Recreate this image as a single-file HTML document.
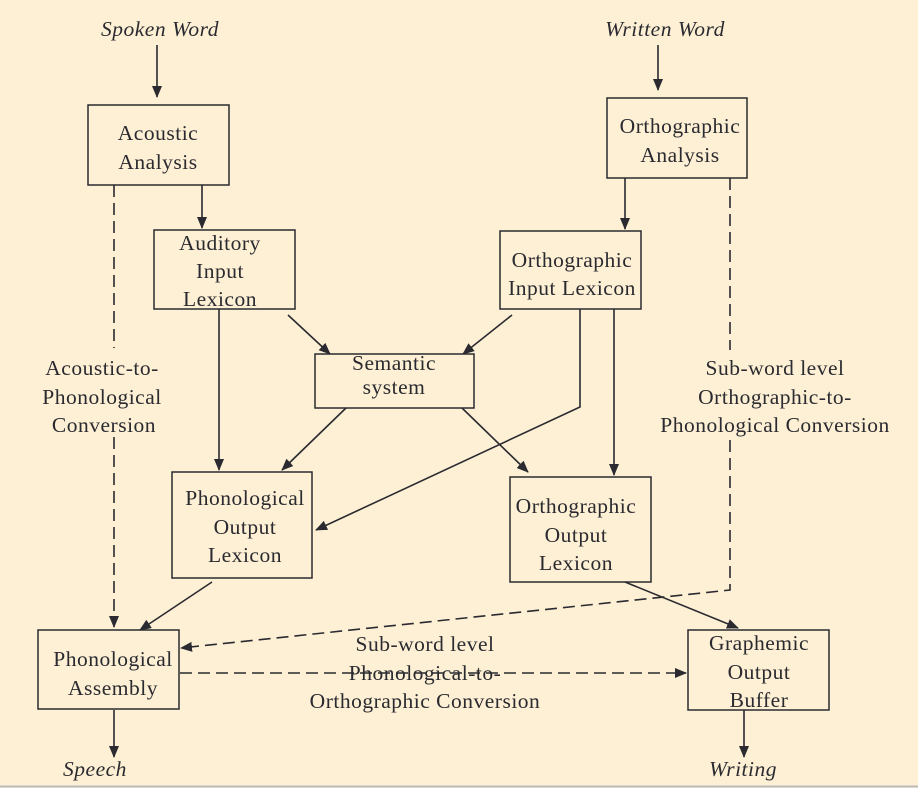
<!DOCTYPE html>
<html><head><style>body{margin:0;background:#fdf0d4}svg{display:block}</style></head><body>
<svg width="918" height="788" viewBox="0 0 918 788" xmlns="http://www.w3.org/2000/svg" font-family="Liberation Serif, serif" font-size="21.5" letter-spacing="0.5" fill="#2a2a30">
<defs><marker id="a" markerWidth="12" markerHeight="10" refX="11" refY="5" orient="auto" markerUnits="userSpaceOnUse"><path d="M0,0 L12,5 L0,10 Z" fill="#2a2a30"/></marker></defs>
<rect width="918" height="788" fill="#fdf0d4"/>
<line x1="0" y1="786.5" x2="918" y2="786.5" stroke="#bbb" stroke-width="2"/>
<g fill="none" stroke="#2a2a30" stroke-width="1.5">
<rect x="88" y="105" width="141" height="80"/>
<rect x="607" y="98" width="140" height="80"/>
<rect x="154" y="230" width="141" height="79"/>
<rect x="500" y="231" width="141" height="78"/>
<rect x="315" y="354" width="159" height="54"/>
<rect x="172" y="472" width="140" height="106"/>
<rect x="510" y="477" width="141" height="105"/>
<rect x="38" y="630" width="141" height="79"/>
<rect x="688" y="630" width="141" height="80"/>
</g>
<g stroke="#2a2a30" stroke-width="1.6" fill="none" marker-end="url(#a)">
<line x1="157" y1="45" x2="157" y2="97"/>
<line x1="658" y1="45" x2="658" y2="90"/>
<line x1="202" y1="185" x2="202" y2="228"/>
<line x1="625" y1="178" x2="625" y2="229"/>
<line x1="288" y1="315" x2="330" y2="354"/>
<line x1="512" y1="315" x2="463" y2="354"/>
<line x1="219" y1="309" x2="219" y2="470"/>
<polyline points="580,309 580,407 316,530"/>
<line x1="614" y1="309" x2="614" y2="475"/>
<line x1="346" y1="408" x2="282" y2="470"/>
<line x1="462" y1="408" x2="528" y2="472"/>
<line x1="212" y1="582" x2="140" y2="630"/>
<line x1="625" y1="582" x2="738" y2="628"/>
<line x1="114" y1="710" x2="114" y2="757"/>
<line x1="744" y1="710" x2="744" y2="757"/>
</g>
<g stroke="#2a2a30" stroke-width="1.6" fill="none" stroke-dasharray="12,6">
<line x1="114" y1="185" x2="114" y2="348"/>
<line x1="114" y1="437" x2="114" y2="627" marker-end="url(#a)"/>
<line x1="730" y1="178" x2="730" y2="350"/>
<polyline points="730,440 730,590 181,648" marker-end="url(#a)"/>
<line x1="180" y1="673" x2="686" y2="673" marker-end="url(#a)"/>
</g>
<g text-anchor="middle">
<text x="160" y="36" font-style="italic">Spoken Word</text>
<text x="665" y="36" font-style="italic">Written Word</text>
<text x="158" y="140">Acoustic</text><text x="158" y="169">Analysis</text>
<text x="680" y="133">Orthographic</text><text x="680" y="162">Analysis</text>
<text x="220" y="250">Auditory</text><text x="220" y="278">Input</text><text x="220" y="306">Lexicon</text>
<text x="572" y="267">Orthographic</text><text x="572" y="295">Input Lexicon</text>
<text x="394" y="370">Semantic</text><text x="394" y="394">system</text>
<text x="245" y="505">Phonological</text><text x="245" y="534">Output</text><text x="245" y="562">Lexicon</text>
<text x="576" y="513">Orthographic</text><text x="576" y="542">Output</text><text x="576" y="570">Lexicon</text>
<text x="113" y="666">Phonological</text><text x="113" y="695">Assembly</text>
<text x="759" y="650">Graphemic</text><text x="759" y="679">Output</text><text x="759" y="707">Buffer</text>
<text x="102" y="375">Acoustic-to-</text><text x="102" y="404">Phonological</text><text x="104" y="432">Conversion</text>
<text x="775" y="375">Sub-word level</text><text x="775" y="404">Orthographic-to-</text><text x="775" y="432">Phonological Conversion</text>
<text x="425" y="651">Sub-word level</text><text x="425" y="680">Phonological-to-</text><text x="425" y="708">Orthographic Conversion</text>
<text x="95" y="776" font-style="italic">Speech</text>
<text x="743" y="776" font-style="italic">Writing</text>
</g>
</svg>
</body></html>
